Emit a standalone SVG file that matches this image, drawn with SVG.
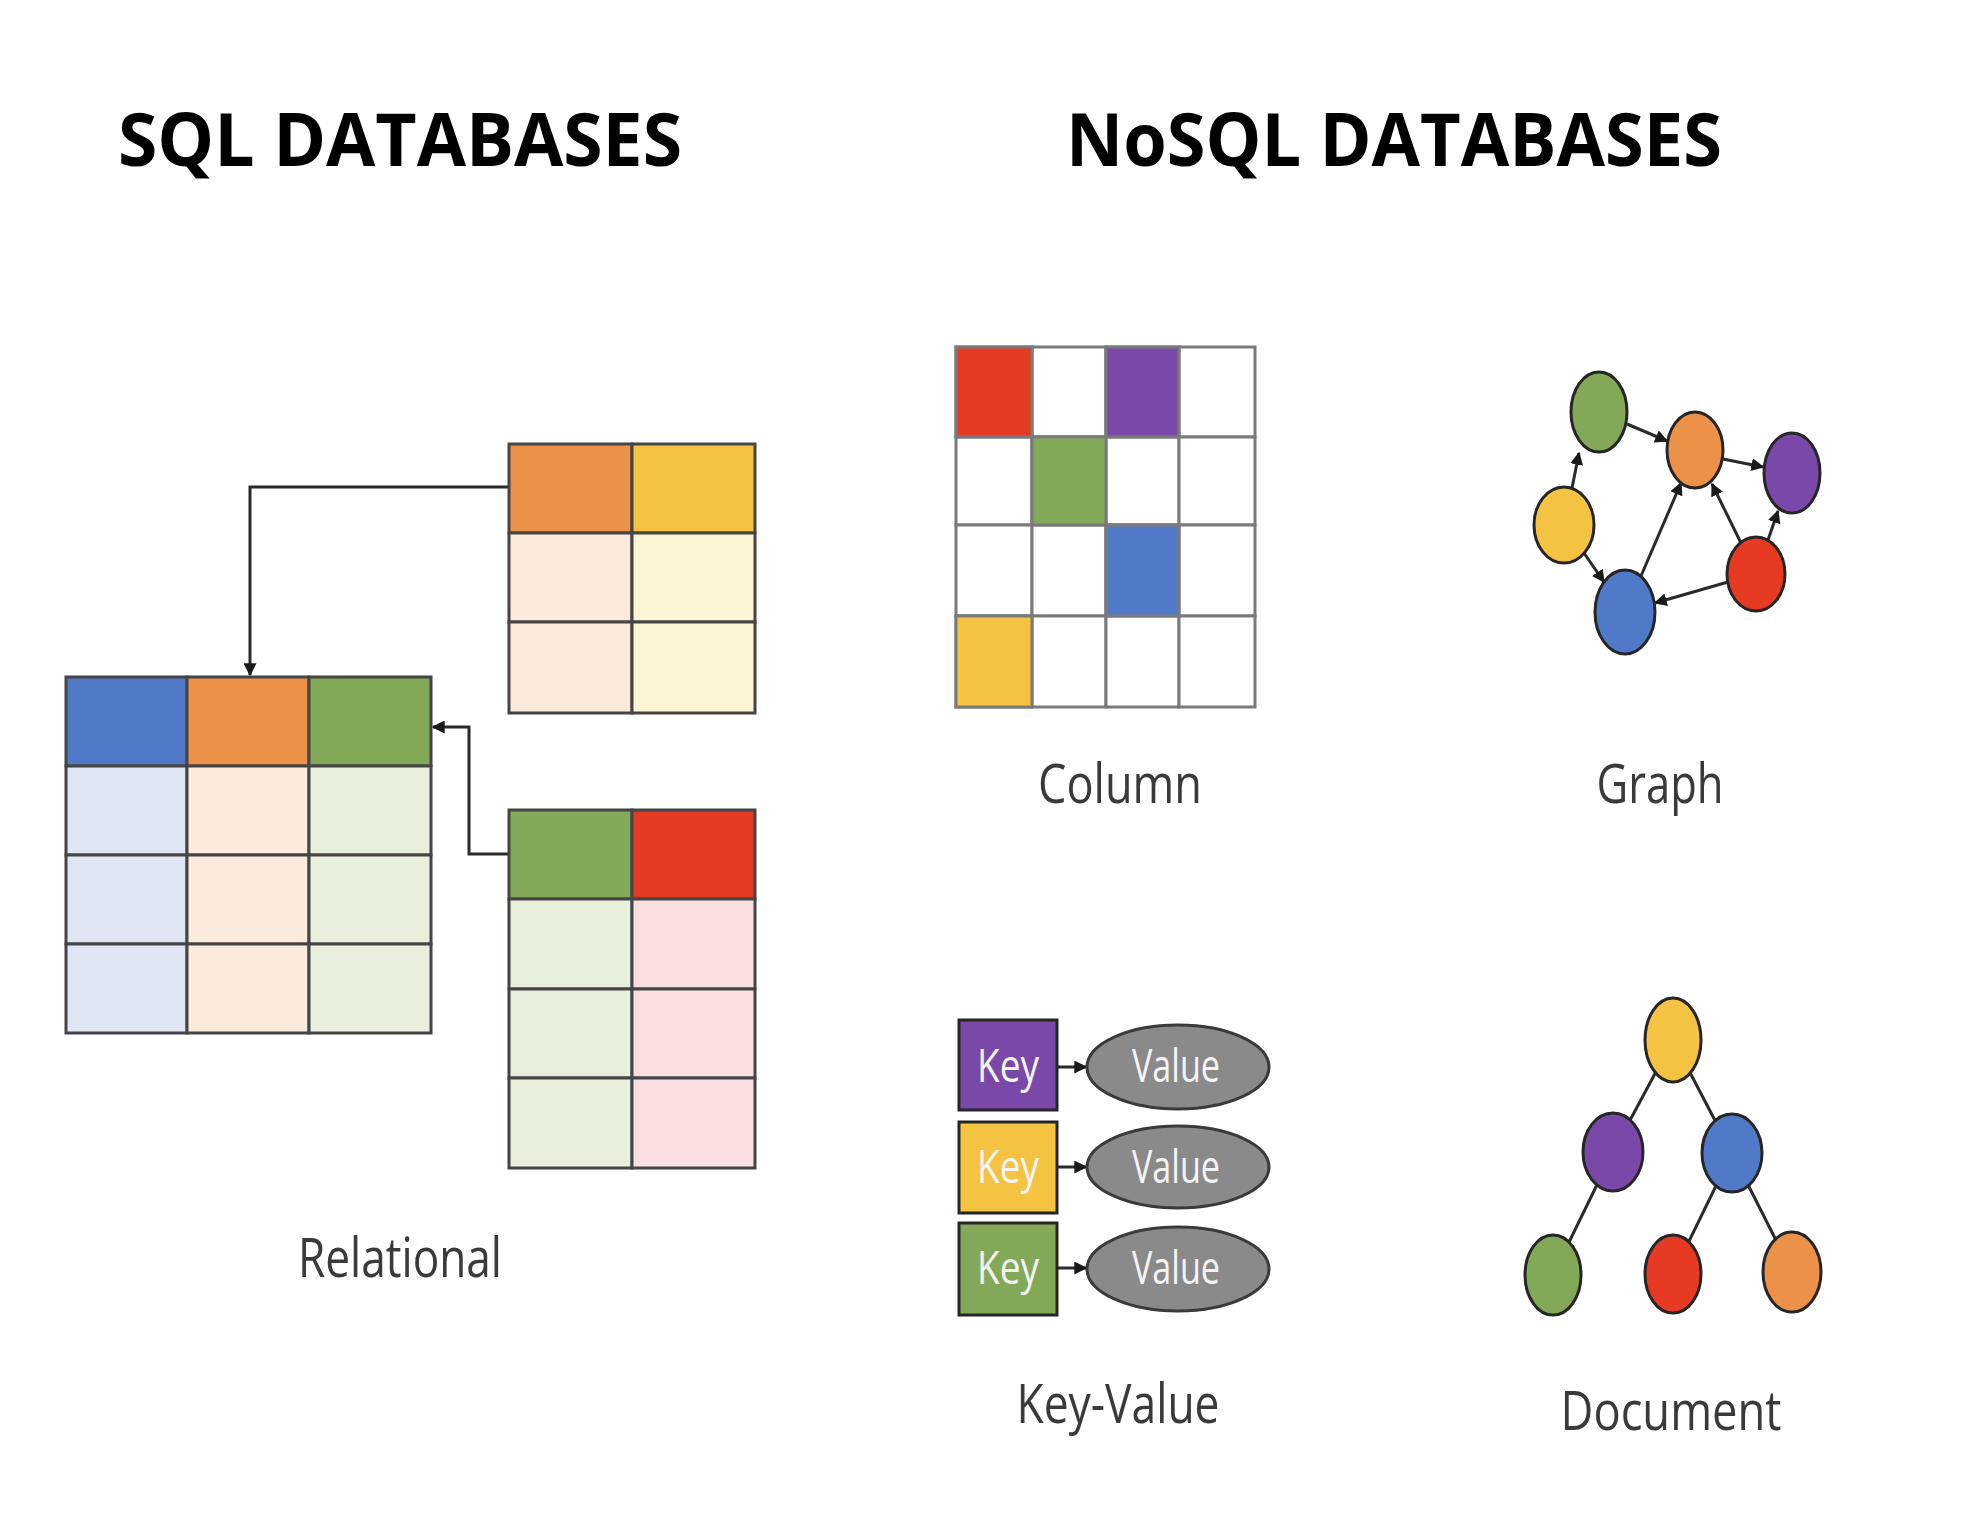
<svg xmlns="http://www.w3.org/2000/svg" width="1978" height="1516" viewBox="0 0 1978 1516">
<style>
.title{font-family:"Open Sans","Liberation Sans",sans-serif;font-weight:700;font-size:74px;fill:#000}
.label{font-family:"Open Sans","Liberation Sans",sans-serif;font-size:54px;fill:#3a3a3a;text-anchor:middle}
.kt{font-family:"Open Sans","Liberation Sans",sans-serif;font-size:46px;fill:#f4f4f4;text-anchor:middle}
.tc{stroke:#454545;stroke-width:3}
.gc{stroke:#7a7a7a;stroke-width:3}
.nd{stroke:#262626;stroke-width:3}
.conn{fill:none;stroke:#2a2a2a;stroke-width:3}
.blue{fill:#5079C8}.orange{fill:#EC9148}.green{fill:#83A958}.yellow{fill:#F5C342}.red{fill:#E63A22}.purple{fill:#7A48A8}
.lblue{fill:#DFE5F2}.lorange{fill:#FCEADC}.lgreen{fill:#E7EFDD}.lyellow{fill:#FEF5D6}.lred{fill:#F9DFDF}.white{fill:#fff}
.val{fill:#8A8A8A;stroke:#3a3a3a;stroke-width:3}
</style>
<defs>
<marker id="ah" viewBox="0 0 10 10" refX="9" refY="5" markerWidth="13" markerHeight="13" markerUnits="userSpaceOnUse" orient="auto">
<path d="M0,0 L10,5 L0,10 z" fill="#1a1a1a"/>
</marker>
</defs>
<rect width="1978" height="1516" fill="#fff"/>

<text class="title" x="118" y="166" textLength="564" lengthAdjust="spacingAndGlyphs">SQL DATABASES</text>
<text class="title" x="1066" y="166" textLength="656" lengthAdjust="spacingAndGlyphs">NoSQL DATABASES</text>

<g id="connectors">
<path class="conn" d="M509,487 H250 V675" marker-end="url(#ah)"/>
<path class="conn" d="M509,854 H469 V727 H433" marker-end="url(#ah)"/>
<g id="graph-edges">
<line class="conn" x1="1572" y1="488" x2="1579" y2="453" marker-end="url(#ah)"/>
<line class="conn" x1="1627" y1="424" x2="1667" y2="441" marker-end="url(#ah)"/>
<line class="conn" x1="1723" y1="459" x2="1763" y2="467" marker-end="url(#ah)"/>
<line class="conn" x1="1584" y1="553" x2="1604" y2="582" marker-end="url(#ah)"/>
<line class="conn" x1="1641" y1="576" x2="1681" y2="483" marker-end="url(#ah)"/>
<line class="conn" x1="1741" y1="543" x2="1712" y2="484" marker-end="url(#ah)"/>
<line class="conn" x1="1768" y1="540" x2="1778" y2="511" marker-end="url(#ah)"/>
<line class="conn" x1="1728" y1="582" x2="1655" y2="603" marker-end="url(#ah)"/>
</g>
<g id="kv-edges">
<line class="conn" x1="1057" y1="1067" x2="1086" y2="1067" marker-end="url(#ah)"/>
<line class="conn" x1="1057" y1="1167" x2="1086" y2="1167" marker-end="url(#ah)"/>
<line class="conn" x1="1057" y1="1268" x2="1086" y2="1268" marker-end="url(#ah)"/>
</g>
<g id="doc-edges">
<line class="conn" x1="1673" y1="1040" x2="1613" y2="1152"/>
<line class="conn" x1="1673" y1="1040" x2="1732" y2="1153"/>
<line class="conn" x1="1613" y1="1152" x2="1553" y2="1275"/>
<line class="conn" x1="1732" y1="1153" x2="1673" y2="1274"/>
<line class="conn" x1="1732" y1="1153" x2="1792" y2="1272"/>
</g>
</g>

<g id="main-table">
<rect class="tc blue" x="66" y="677" width="121" height="89"/>
<rect class="tc orange" x="187" y="677" width="122" height="89"/>
<rect class="tc green" x="309" y="677" width="122" height="89"/>
<rect class="tc lblue" x="66" y="766" width="121" height="89"/>
<rect class="tc lorange" x="187" y="766" width="122" height="89"/>
<rect class="tc lgreen" x="309" y="766" width="122" height="89"/>
<rect class="tc lblue" x="66" y="855" width="121" height="89"/>
<rect class="tc lorange" x="187" y="855" width="122" height="89"/>
<rect class="tc lgreen" x="309" y="855" width="122" height="89"/>
<rect class="tc lblue" x="66" y="944" width="121" height="89"/>
<rect class="tc lorange" x="187" y="944" width="122" height="89"/>
<rect class="tc lgreen" x="309" y="944" width="122" height="89"/>
</g>

<g id="top-table">
<rect class="tc orange" x="509" y="444" width="123" height="89"/>
<rect class="tc yellow" x="632" y="444" width="123" height="89"/>
<rect class="tc lorange" x="509" y="533" width="123" height="89"/>
<rect class="tc lyellow" x="632" y="533" width="123" height="89"/>
<rect class="tc lorange" x="509" y="622" width="123" height="91"/>
<rect class="tc lyellow" x="632" y="622" width="123" height="91"/>
</g>

<g id="bottom-table">
<rect class="tc green" x="509" y="810" width="123" height="89"/>
<rect class="tc red" x="632" y="810" width="123" height="89"/>
<rect class="tc lgreen" x="509" y="899" width="123" height="90"/>
<rect class="tc lred" x="632" y="899" width="123" height="90"/>
<rect class="tc lgreen" x="509" y="989" width="123" height="89"/>
<rect class="tc lred" x="632" y="989" width="123" height="89"/>
<rect class="tc lgreen" x="509" y="1078" width="123" height="90"/>
<rect class="tc lred" x="632" y="1078" width="123" height="90"/>
</g>

<text class="label" x="400" y="1277" textLength="204" lengthAdjust="spacingAndGlyphs">Relational</text>

<g id="column-grid">
<rect class="gc white" x="956" y="347" width="76" height="90"/>
<rect class="gc white" x="1032" y="347" width="74" height="90"/>
<rect class="gc white" x="1106" y="347" width="73" height="90"/>
<rect class="gc white" x="1179" y="347" width="76" height="90"/>
<rect class="gc white" x="956" y="437" width="76" height="88"/>
<rect class="gc white" x="1032" y="437" width="74" height="88"/>
<rect class="gc white" x="1106" y="437" width="73" height="88"/>
<rect class="gc white" x="1179" y="437" width="76" height="88"/>
<rect class="gc white" x="956" y="525" width="76" height="91"/>
<rect class="gc white" x="1032" y="525" width="74" height="91"/>
<rect class="gc white" x="1106" y="525" width="73" height="91"/>
<rect class="gc white" x="1179" y="525" width="76" height="91"/>
<rect class="gc white" x="956" y="616" width="76" height="91"/>
<rect class="gc white" x="1032" y="616" width="74" height="91"/>
<rect class="gc white" x="1106" y="616" width="73" height="91"/>
<rect class="gc white" x="1179" y="616" width="76" height="91"/>
<rect class="gc red" x="956" y="347" width="76" height="90"/>
<rect class="gc purple" x="1106" y="347" width="73" height="90"/>
<rect class="gc green" x="1032" y="437" width="74" height="88"/>
<rect class="gc blue" x="1106" y="525" width="73" height="91"/>
<rect class="gc yellow" x="956" y="616" width="76" height="91"/>
</g>
<text class="label" x="1120" y="803" textLength="164" lengthAdjust="spacingAndGlyphs">Column</text>

<g id="graph-nodes">
<g id="g-green"><ellipse class="nd green" cx="1599" cy="412" rx="28" ry="40"/></g>
<g id="g-orange"><ellipse class="nd orange" cx="1695" cy="450" rx="28" ry="38"/></g>
<g id="g-purple"><ellipse class="nd purple" cx="1792" cy="473" rx="28" ry="40"/></g>
<g id="g-yellow"><ellipse class="nd yellow" cx="1564" cy="525" rx="30" ry="38"/></g>
<g id="g-blue"><ellipse class="nd blue" cx="1625" cy="612" rx="30" ry="42"/></g>
<g id="g-red"><ellipse class="nd red" cx="1756" cy="574" rx="29" ry="37"/></g>
</g>
<text class="label" x="1660" y="803" textLength="127" lengthAdjust="spacingAndGlyphs">Graph</text>

<g id="kv-1">
<rect class="nd purple" x="959" y="1020" width="98" height="90"/>
<text class="kt" x="1008" y="1082" textLength="62" lengthAdjust="spacingAndGlyphs">Key</text>
<ellipse class="val" cx="1178" cy="1067" rx="91" ry="42"/>
<text class="kt" x="1176" y="1082" textLength="88" lengthAdjust="spacingAndGlyphs">Value</text>
</g>
<g id="kv-2">
<rect class="nd yellow" x="959" y="1122" width="98" height="91"/>
<text class="kt" x="1008" y="1183" textLength="62" lengthAdjust="spacingAndGlyphs">Key</text>
<ellipse class="val" cx="1178" cy="1167" rx="91" ry="41"/>
<text class="kt" x="1176" y="1183" textLength="88" lengthAdjust="spacingAndGlyphs">Value</text>
</g>
<g id="kv-3">
<rect class="nd green" x="959" y="1223" width="98" height="92"/>
<text class="kt" x="1008" y="1284" textLength="62" lengthAdjust="spacingAndGlyphs">Key</text>
<ellipse class="val" cx="1178" cy="1269" rx="91" ry="42"/>
<text class="kt" x="1176" y="1284" textLength="88" lengthAdjust="spacingAndGlyphs">Value</text>
</g>
<text class="label" x="1118" y="1423" textLength="203" lengthAdjust="spacingAndGlyphs">Key-Value</text>

<g id="doc-nodes">
<g id="d-yellow"><ellipse class="nd yellow" cx="1673" cy="1040" rx="28" ry="42"/></g>
<g id="d-purple"><ellipse class="nd purple" cx="1613" cy="1152" rx="30" ry="39"/></g>
<g id="d-blue"><ellipse class="nd blue" cx="1732" cy="1153" rx="30" ry="39"/></g>
<g id="d-green"><ellipse class="nd green" cx="1553" cy="1275" rx="28" ry="40"/></g>
<g id="d-red"><ellipse class="nd red" cx="1673" cy="1274" rx="28" ry="39"/></g>
<g id="d-orange"><ellipse class="nd orange" cx="1792" cy="1272" rx="29" ry="40"/></g>
</g>
<text class="label" x="1671" y="1430" textLength="221" lengthAdjust="spacingAndGlyphs">Document</text>
</svg>
